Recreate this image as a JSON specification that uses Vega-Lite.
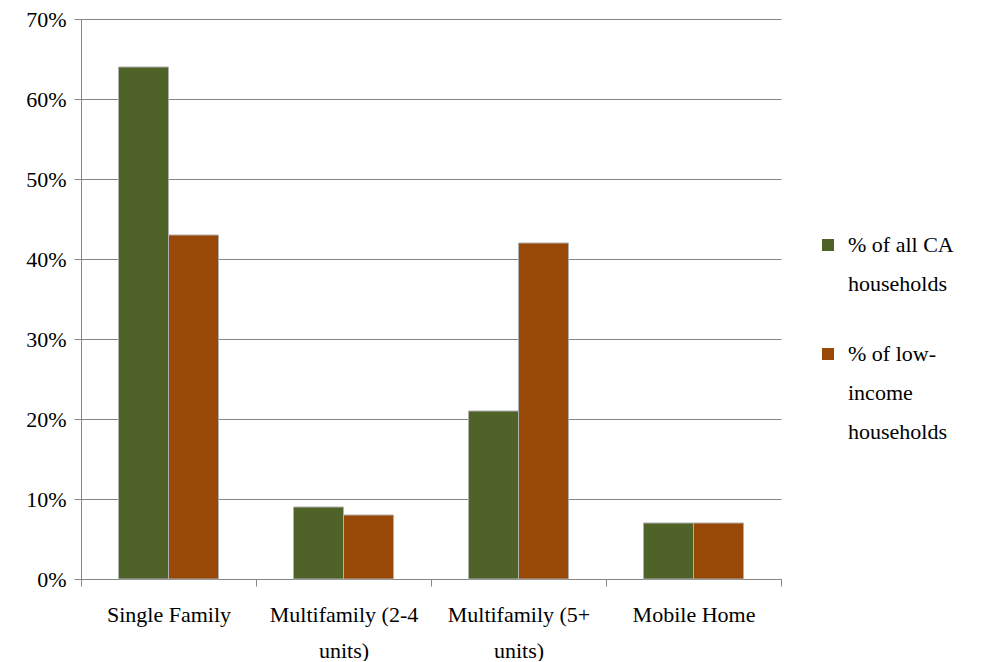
{
  "$schema": "https://vega.github.io/schema/vega-lite/v6.json",
  "width": 700,
  "height": 560,
  "padding": {"left": 25, "top": 8, "right": 5, "bottom": 0},
  "background": "white",
  "data": {
    "values": [
      {"type": "Single Family", "series": "% of all CA households", "value": 0.64},
      {"type": "Single Family", "series": "% of low-income households", "value": 0.43},
      {"type": "Multifamily (2-4 units)", "series": "% of all CA households", "value": 0.09},
      {"type": "Multifamily (2-4 units)", "series": "% of low-income households", "value": 0.08},
      {"type": "Multifamily (5+ units)", "series": "% of all CA households", "value": 0.21},
      {"type": "Multifamily (5+ units)", "series": "% of low-income households", "value": 0.42},
      {"type": "Mobile Home", "series": "% of all CA households", "value": 0.07},
      {"type": "Mobile Home", "series": "% of low-income households", "value": 0.07}
    ]
  },
  "mark": {"type": "bar", "stroke": "#b0b0b0", "strokeWidth": 1},
  "encoding": {
    "x": {
      "field": "type",
      "type": "nominal",
      "sort": null,
      "scale": {"paddingInner": 0, "paddingOuter": 0},
      "axis": {
        "title": null,
        "labelAngle": 0,
        "tickBand": "extent",
        "tickSize": 7,
        "tickColor": "#868686",
        "domainColor": "#868686",
        "labelPadding": 28,
        "labelBaseline": "middle",
        "labelLineHeight": 36,
        "labelExpr": "datum.value == 'Multifamily (2-4 units)' ? ['Multifamily (2-4', 'units)'] : datum.value == 'Multifamily (5+ units)' ? ['Multifamily (5+', 'units)'] : datum.value",
        "labelLimit": 300,
        "labelOverlap": false
      }
    },
    "xOffset": {
      "field": "series",
      "type": "nominal",
      "scale": {"paddingInner": 0, "paddingOuter": 0.75}
    },
    "y": {
      "field": "value",
      "type": "quantitative",
      "scale": {"domain": [0, 0.7], "nice": false},
      "axis": {
        "title": null,
        "format": ".0%",
        "values": [0, 0.1, 0.2, 0.3, 0.4, 0.5, 0.6, 0.7],
        "tickSize": 7,
        "tickColor": "#868686",
        "domainColor": "#868686",
        "gridColor": "#868686",
        "grid": true,
        "labelPadding": 8,
        "labelOverlap": false
      }
    },
    "color": {
      "field": "series",
      "type": "nominal",
      "scale": {"range": ["#4f6228", "#984807"]},
      "legend": {
        "title": null,
        "symbolType": "square",
        "symbolSize": 144,
        "symbolStrokeWidth": 0,
        "labelExpr": "datum.value == '% of all CA households' ? ['% of all CA', 'households'] : ['% of low-', 'income', 'households']",
        "rowPadding": 48,
        "orient": "none",
        "legendX": 736,
        "legendY": 215,
        "labelLimit": 200,
        "labelOffset": 9
      }
    }
  },
  "config": {
    "view": {"stroke": null},
    "font": "Liberation Serif",
    "style": {"guide-label": {"lineHeight": 39}},
    "axis": {
      "labelFont": "Liberation Serif",
      "labelFontSize": 22,
      "labelColor": "#000000",
      "domainWidth": 1,
      "gridWidth": 1
    },
    "legend": {
      "labelFont": "Liberation Serif",
      "labelFontSize": 22,
      "labelColor": "#000000"
    }
  }
}
